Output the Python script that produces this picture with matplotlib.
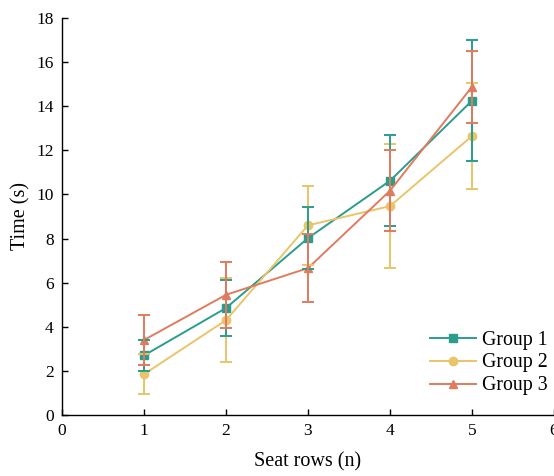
import matplotlib
matplotlib.use("Agg")
import matplotlib.pyplot as plt
from matplotlib.lines import Line2D

rows = [1, 2, 3, 4, 5]
group1 = [2.70, 4.85, 8.02, 10.62, 14.25]
group1_err = [0.70, 1.25, 1.41, 2.07, 2.75]
group2 = [1.85, 4.30, 8.60, 9.47, 12.65]
group2_err = [0.90, 1.90, 1.78, 2.80, 2.41]
group3 = [3.40, 5.45, 6.66, 10.17, 14.88]
group3_err = [1.15, 1.50, 1.54, 1.83, 1.63]
labels = ["Group 1", "Group 2", "Group 3"]
colors = ["#2a9d8c", "#e9c46a", "#e07b5e"]
markers = ["s", "o", "^"]

plt.rcParams["font.family"] = ["Liberation Serif", "DejaVu Serif"]

fig = plt.figure(figsize=(5.54, 4.76), dpi=100)
ax = fig.add_axes([62/554, 61/476, 492/554, 397/476])

series = list(zip([group1, group2, group3],
                  [group1_err, group2_err, group3_err],
                  colors, markers, labels))
err_z = [4.1, 4.0, 4.2]
handles = []
for i, (y, e, c, m, lab) in enumerate(series):
    ax.plot(rows, y, color=c, marker=m, markersize=6, linewidth=1.4,
            zorder=2 + i * 0.1)
    ax.errorbar(rows, y, yerr=e, fmt="none", ecolor=c, elinewidth=1.4,
                capsize=4.5, capthick=1.4, zorder=err_z[i])
    handles.append(Line2D([], [], color=c, marker=m, markersize=6,
                          linewidth=1.4, label=lab))

ax.set_xlim(0, 6)
ax.set_ylim(0, 18)
ax.set_xticks(range(0, 7))
ax.set_yticks(range(0, 19, 2))
for s in ["top", "right"]:
    ax.spines[s].set_visible(False)
for s in ["left", "bottom"]:
    ax.spines[s].set_linewidth(1.0)
ax.tick_params(direction="in", length=4, width=1, labelsize=12.5, pad=6)
ax.set_xlabel("Seat rows (n)", fontsize=14.5, labelpad=9)
ax.set_ylabel("Time (s)", fontsize=14.5, labelpad=4)

ax.legend(handles=handles, loc="center left", bbox_to_anchor=(0.747, 0.131),
          frameon=False, fontsize=14.3, handlelength=2.35,
          handletextpad=0.3, labelspacing=0.2, borderpad=0, borderaxespad=0)

fig.savefig("out.png", dpi=100)
